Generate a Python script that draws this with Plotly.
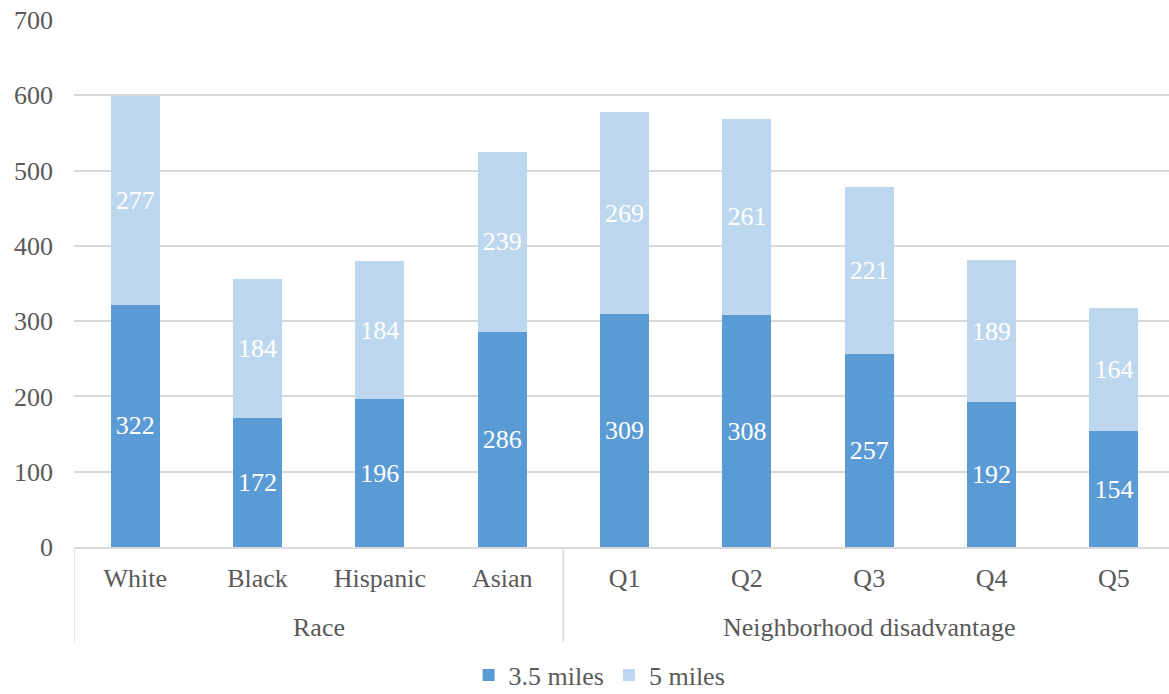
import plotly.graph_objects as go

groups = ["Race"] * 4 + ["Neighborhood disadvantage"] * 5
categories = ["White", "Black", "Hispanic", "Asian", "Q1", "Q2", "Q3", "Q4", "Q5"]
miles_35 = [322, 172, 196, 286, 309, 308, 257, 192, 154]
miles_5 = [277, 184, 184, 239, 269, 261, 221, 189, 164]
y_ticks = [0, 100, 200, 300, 400, 500, 600, 700]

FONT = "Liberation Serif"
GRID = "#D9D9D9"
TXT = "#595959"
FS = 26

x_idx = list(range(len(categories)))

fig = go.Figure()
fig.add_trace(go.Bar(
    x=x_idx, y=miles_35, name="3.5 miles",
    marker=dict(color="#5B9BD5", line=dict(width=0)),
    texttemplate="%{y}", textposition="inside",
    insidetextanchor="middle", textangle=0,
    textfont=dict(color="white", size=FS, family=FONT),
))
fig.add_trace(go.Bar(
    x=x_idx, y=miles_5, name="5 miles",
    marker=dict(color="#BDD7EE", line=dict(width=0)),
    texttemplate="%{y}", textposition="inside",
    insidetextanchor="middle", textangle=0,
    textfont=dict(color="white", size=FS, family=FONT),
))

# group labels and dividers derived from the groups list
group_spans = []
start = 0
for i in range(1, len(groups) + 1):
    if i == len(groups) or groups[i] != groups[start]:
        group_spans.append((groups[start], start, i - 1))
        start = i

DIV_LEN = 95 / 527
for name, a, b in group_spans:
    fig.add_annotation(x=(a + b) / 2, y=0, xref="x", yref="paper",
                       text=name, showarrow=False, yanchor="middle",
                       yshift=-80, font=dict(size=FS, color=TXT, family=FONT))
    fig.add_shape(type="line", xref="x", yref="paper",
                  x0=a - 0.5, x1=a - 0.5, y0=0, y1=-DIV_LEN,
                  line=dict(color=GRID, width=1.5))

fig.update_layout(
    width=1169, height=694,
    barmode="stack", bargap=0.6,
    plot_bgcolor="white", paper_bgcolor="white",
    margin=dict(l=74, r=0, t=20, b=147, autoexpand=False),
    font=dict(family=FONT, size=FS, color=TXT),
    legend=dict(orientation="h", x=0.48, xanchor="center",
                yref="paper", y=-0.243, yanchor="middle",
                font=dict(size=FS, color=TXT, family=FONT),
                itemwidth=30, traceorder="normal"),
    xaxis=dict(range=[-0.5, 8.45], tickvals=x_idx, ticktext=categories,
               showline=True, linecolor=GRID, linewidth=1.5,
               tickfont=dict(size=FS, color=TXT, family=FONT),
               showgrid=False, ticks="", ticklabelstandoff=7,
               zeroline=False, automargin=False),
    yaxis=dict(range=[0, 700], tickvals=y_ticks, showgrid=True,
               gridcolor=GRID, gridwidth=1.5, zeroline=False,
               showline=False, ticks="", ticklabelstandoff=20,
               tickfont=dict(size=FS, color=TXT, family=FONT),
               automargin=False),
)

fig.write_html("out.html")
